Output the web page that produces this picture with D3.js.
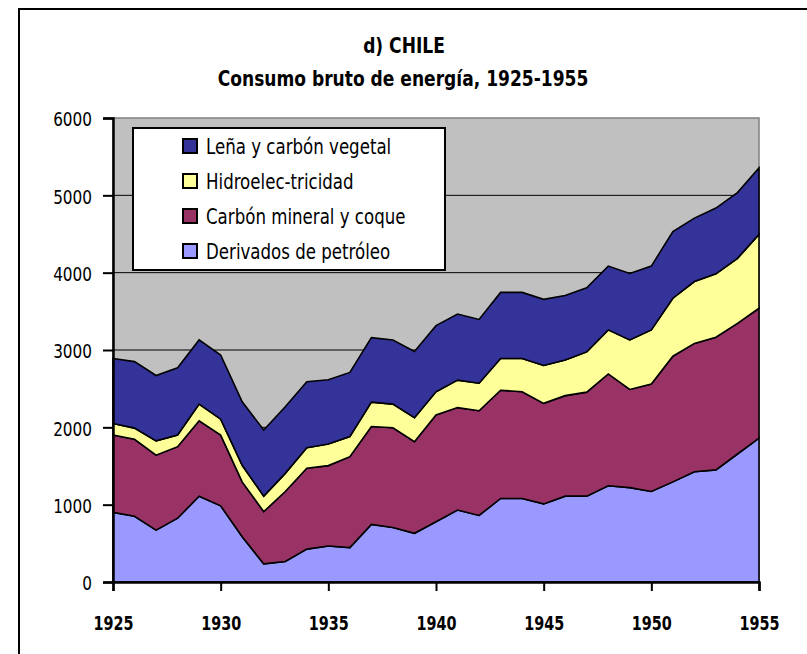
<!DOCTYPE html>
<html>
<head>
<meta charset="utf-8">
<script src="https://cdn.jsdelivr.net/npm/d3@7"></script>
<style>
  body { margin: 0; background: #fff; }
  svg text { font-family: "Liberation Sans Narrow", "Arial Narrow", "DejaVu Sans Condensed", sans-serif; fill: #000; }
</style>
</head>
<body>
<div id="chart"></div>
<script>
// Data
const years = d3.range(1925, 1956);
const petroleo = [900, 850, 670, 825, 1110, 985, 585, 235, 265, 425, 465, 445, 745, 705, 630, 780, 930, 860, 1080, 1080, 1010, 1110, 1110, 1245, 1220, 1170, 1295, 1425, 1450, 1655, 1860];
const carbonMineral = [1000, 995, 970, 925, 975, 915, 710, 675, 905, 1045, 1040, 1175, 1265, 1290, 1185, 1380, 1325, 1355, 1400, 1380, 1300, 1300, 1345, 1445, 1270, 1390, 1625, 1660, 1715, 1690, 1680];
const hidro = [150, 145, 185, 150, 215, 205, 215, 200, 235, 265, 280, 260, 315, 305, 310, 300, 355, 355, 410, 430, 490, 460, 520, 570, 640, 700, 750, 800, 820, 840, 955];
const lena = [840, 860, 845, 870, 830, 830, 820, 855, 860, 855, 830, 830, 835, 830, 855, 855, 855, 825, 855, 855, 855, 835, 830, 825, 860, 825, 860, 820, 850, 850, 860];

const seriesKeys = ["petroleo", "carbon", "hidro", "lena"];
const seriesColors = { petroleo: "#9999ff", carbon: "#993366", hidro: "#ffff99", lena: "#333399" };
const legendItems = [
    { key: "lena", label: "Leña y carbón vegetal" },
    { key: "hidro", label: "Hidroelec-tricidad" },
    { key: "carbon", label: "Carbón mineral y coque" },
    { key: "petroleo", label: "Derivados de petróleo" }
];
const yTicks = [0, 1000, 2000, 3000, 4000, 5000, 6000];
const xTicks = [1925, 1930, 1935, 1940, 1945, 1950, 1955];

const W = 807, H = 654;
const plot = { left: 113, right: 759, top: 118, bottom: 582 };

const table = years.map((yr, i) => ({
    year: yr, petroleo: petroleo[i], carbon: carbonMineral[i], hidro: hidro[i], lena: lena[i]
}));

const svg = d3.select("#chart").append("svg").attr("width", W).attr("height", H);

// outer frame (runs off the right and bottom edges)
svg.append("rect").attr("x", 19).attr("y", 9).attr("width", 800).attr("height", 660)
    .attr("fill", "none").attr("stroke", "#000").attr("stroke-width", 2);

// Titles - text is stretched a bit vertically to mimic the narrow original font
svg.append("text").attr("transform", "translate(404,53) scale(1,1.12)").attr("text-anchor", "middle")
    .style("font-size", "19px").style("font-weight", "bold").text("d) CHILE");
svg.append("text").attr("transform", "translate(403,86) scale(1,1.12)").attr("text-anchor", "middle")
    .style("font-size", "19px").style("font-weight", "bold").text("Consumo bruto de energía, 1925-1955");

const x = d3.scaleLinear().domain([1925, 1955]).range([plot.left, plot.right]);
const y = d3.scaleLinear().domain([0, 6000]).range([plot.bottom, plot.top]);

// Plot background
svg.append("rect").attr("x", plot.left).attr("y", plot.top)
    .attr("width", plot.right - plot.left).attr("height", plot.bottom - plot.top)
    .attr("fill", "#c0c0c0").attr("stroke", "#808080").attr("stroke-width", 1.5);

// Gridlines
svg.append("g").selectAll("line").data(yTicks.filter(d => d > 0 && d < 6000)).enter().append("line")
    .attr("x1", plot.left).attr("x2", plot.right)
    .attr("y1", d => y(d)).attr("y2", d => y(d))
    .attr("stroke", "#000").attr("stroke-width", 1);

// Stacked areas
const stack = d3.stack().keys(seriesKeys);
const layers = stack(table);
const area = d3.area().x(d => x(d.data.year)).y0(d => y(d[0])).y1(d => y(d[1]));
svg.append("g").selectAll("path").data(layers).enter().append("path")
    .attr("d", area)
    .attr("fill", d => seriesColors[d.key])
    .attr("stroke", "#000").attr("stroke-width", 1.6).attr("stroke-linejoin", "miter");

// Axes
const yAxis = d3.axisLeft(y).tickValues(yTicks).tickSize(10).tickPadding(11).tickFormat(d3.format("d"));
const gy = svg.append("g").attr("transform", `translate(${plot.left},0)`).call(yAxis);
gy.select(".domain").attr("stroke-width", 2.5);
gy.selectAll(".tick line").attr("stroke-width", 2);
gy.selectAll("text").style("font-size", "17px").attr("font-family", null)
    .attr("dy", "0.4em").attr("transform", "scale(1,1.15)");

const xAxis = d3.axisBottom(x).tickValues(xTicks).tickSize(9).tickFormat(d3.format("d"));
const gx = svg.append("g").attr("transform", `translate(0,${plot.bottom})`).call(xAxis);
gx.select(".domain").attr("stroke-width", 2.5);
gx.selectAll(".tick line").attr("stroke-width", 2);
gx.selectAll("text").style("font-size", "16px").style("font-weight", "bold").attr("font-family", null)
    .attr("y", 40).attr("dy", 0).attr("transform", "scale(1,1.2)");

// Legend
const lg = svg.append("g");
lg.append("rect").attr("x", 133).attr("y", 128).attr("width", 312).attr("height", 142)
    .attr("fill", "#fff").attr("stroke", "#000").attr("stroke-width", 2);
const rows = lg.selectAll("g.item").data(legendItems).enter().append("g").attr("class", "item")
    .attr("transform", (d, i) => `translate(183,${146 + i * 35})`);
rows.append("rect").attr("x", 0).attr("y", -7).attr("width", 14).attr("height", 14)
    .attr("fill", d => seriesColors[d.key]).attr("stroke", "#000").attr("stroke-width", 2);
rows.append("text").attr("transform", "translate(23,8) scale(1,1.15)")
    .style("font-size", "18.5px").text(d => d.label);
</script>
</body>
</html>
